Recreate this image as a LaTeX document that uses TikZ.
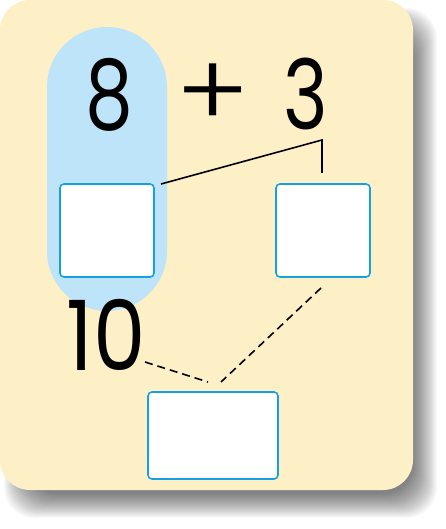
\documentclass[tikz,border=0pt]{standalone}
\usepackage{fontspec}
\setmainfont{Poppins}
\newfontfamily\lightfont{Poppins}[UprightFont=* Light]
\definecolor{card}{RGB}{254,240,198}
\definecolor{pill}{RGB}{190,228,250}
\definecolor{boxline}{RGB}{20,160,225}
\newcommand{\narrow}[1]{\scalebox{0.78}[1]{#1}}
\begin{document}
\begin{tikzpicture}[x=1pt,y=-1pt,
  box/.style={draw=boxline,line width=1.6pt,fill=white,rounded corners=4pt,inner sep=0pt},
  digit/.style={font=\fontsize{97}{97}\selectfont,inner sep=0pt,anchor=base},
  link/.style={black,line width=1.6pt},
  dlink/.style={black,line width=1.6pt,dash pattern=on 8pt off 5pt}]
\useasboundingbox (0,0) rectangle (446,529);
\fill[white] (0,0) rectangle (446,529);
% soft shadow
\foreach \i in {0,...,24}{
  \fill[black,opacity=0.024,rounded corners=30pt]
    (28-\i,32-\i) rectangle (413+\i,494+\i);
}
% card
\fill[card,rounded corners=30pt] (0,0) rectangle (413,490);
% pill
\fill[pill,rounded corners=60pt] (47,27) rectangle (167,311);
% boxes
\node[box,minimum width=94pt,minimum height=93pt] (b1) at (107,230.5) {};
\node[box,minimum width=94pt,minimum height=93pt] (b2) at (323,230.5) {};
\node[box,minimum width=130pt,minimum height=87pt] (b3) at (213,435.5) {};
% digits
\node[digit] (n8) at (109,130) {\narrow{8}};
\node[digit,font=\fontsize{97}{97}\selectfont\lightfont] (plus) at (213,128) {\scalebox{1.15}[1.05]{+}};
\node[digit] (n3) at (306,130) {\narrow{3}};
\node[digit] (n10) at (106,370) {\scalebox{0.86}[1]{10}};
% connectors
\coordinate (s1) at (161,184);
\coordinate (k) at (322,140);
\coordinate (s2) at (322,173);
\draw[link] (s1) -- (k) -- (s2);
\coordinate (d1) at (321,288);
\coordinate (d2) at (221,382);
\coordinate (d3) at (145,362);
\coordinate (d4) at (208,382);
\draw[dlink] (d1) -- (d2);
\draw[dlink] (d3) -- (d4);
\end{tikzpicture}
\end{document}
